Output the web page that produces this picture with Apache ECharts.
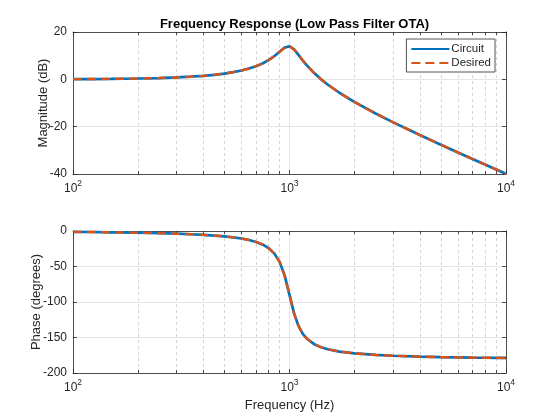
<!DOCTYPE html>
<html><head><meta charset="utf-8">
<script src="https://cdn.jsdelivr.net/npm/echarts@6/dist/echarts.min.js"></script>
<style>html,body{margin:0;padding:0;background:#fff}#c{width:560px;height:420px}</style>
</head><body><div id="c"></div>
<script>
const freq = [100,120,150,200,250,300,350,400,450,500,550,600,650,700,750,800,850,900,950,1000,1050,1100,1150,1200,1300,1400,1500,1700,2000,2500,3000,4000,5000,6000,7000,8000,9000,10000];
// Magnitude (dB)
const magCircuit = [0.09,0.12,0.19,0.35,0.55,0.80,1.11,1.47,1.91,2.42,3.02,3.73,4.56,5.53,6.70,8.09,9.75,11.64,13.41,13.98,12.63,10.34,8.04,6.00,2.65,0.00,-2.18,-5.67,-9.62,-14.44,-18.09,-23.53,-27.61,-30.89,-33.63,-35.99,-38.06,-39.92];
const magDesired = [0.09,0.12,0.19,0.35,0.55,0.80,1.11,1.47,1.91,2.42,3.02,3.73,4.56,5.53,6.70,8.09,9.75,11.64,13.41,13.98,12.63,10.34,8.04,6.00,2.65,0.00,-2.18,-5.67,-9.62,-14.44,-18.09,-23.53,-27.61,-30.89,-33.63,-35.99,-38.06,-39.92];
// Phase (degrees)
const phaseCircuit = [-1.2,-1.4,-1.8,-2.4,-3.1,-3.8,-4.6,-5.4,-6.4,-7.6,-9.0,-10.6,-12.7,-15.4,-18.9,-24.0,-31.5,-43.5,-62.8,-90.0,-116.0,-133.7,-144.5,-151.4,-159.4,-163.7,-166.5,-169.8,-172.4,-174.6,-175.7,-177.0,-177.6,-178.0,-178.3,-178.5,-178.7,-178.8];
const phaseDesired = [-1.2,-1.4,-1.8,-2.4,-3.1,-3.8,-4.6,-5.4,-6.4,-7.6,-9.0,-10.6,-12.7,-15.4,-18.9,-24.0,-31.5,-43.5,-62.8,-90.0,-116.0,-133.7,-144.5,-151.4,-159.4,-163.7,-166.5,-169.8,-172.4,-174.6,-175.7,-177.0,-177.6,-178.0,-178.3,-178.5,-178.7,-178.8];
// Axis ticks
const xMin = 100, xMax = 10000;
const minorFreq = [200,300,400,500,600,700,800,900,2000,3000,4000,5000,6000,7000,8000,9000];
const magRange = [-40, 20], magStep = 20;
const phaseRange = [-200, 0], phaseStep = 50;
const seriesNames = ['Circuit', 'Desired'];

const TXT = '#262626';
const BLUE = '#0072BD', ORANGE = '#D95319';
const FONT = 'Liberation Sans, Arial, Helvetica, sans-serif';

function pairs(xs, ys){ return xs.map((x,i)=>[x, ys[i]]); }

function logLabel(v){
  const e = Math.round(Math.log10(v));
  return '{b|10}{s|' + e + '}';
}
const richLog = {
  b: {fontSize: 12, color: TXT, fontFamily: FONT, lineHeight: 16, verticalAlign: 'bottom'},
  s: {fontSize: 8.5, color: TXT, fontFamily: FONT, lineHeight: 9, verticalAlign: 'top'}
};

function xAxes(gi, name){
  return [
    {gridIndex: gi, type: 'log', logBase: 10, min: xMin, max: xMax,
     name: name || '', nameLocation: 'middle', nameGap: 26, nameMoveOverlap: false,
     nameTextStyle: {fontSize: 13, color: TXT, fontFamily: FONT},
     axisLine: {show: true, onZero: false, lineStyle: {color: TXT, width: 0.8}},
     axisTick: {inside: true, length: 4, lineStyle: {color: TXT, width: 0.8}},
     axisLabel: {formatter: logLabel, rich: richLog, margin: 5},
     splitLine: {show: true, lineStyle: {color: '#dedede', width: 0.8}},
     minorTick: {show: false}},
    {gridIndex: gi, type: 'log', logBase: 10, min: xMin, max: xMax, position: 'top',
     axisLine: {show: true, onZero: false, lineStyle: {color: TXT, width: 0.8}},
     axisTick: {inside: true, length: 4, lineStyle: {color: TXT, width: 0.8}},
     axisLabel: {show: false}, splitLine: {show: false}}
  ];
}
function yAxes(gi, range, step, name, gap){
  return [
    {gridIndex: gi, type: 'value', min: range[0], max: range[1], interval: step,
     name: name, nameLocation: 'middle', nameGap: gap, nameMoveOverlap: false,
     nameTextStyle: {fontSize: 13, color: TXT, fontFamily: FONT},
     axisLine: {show: true, onZero: false, lineStyle: {color: TXT, width: 0.8}},
     axisTick: {show: true, inside: true, length: 4, lineStyle: {color: TXT, width: 0.8}},
     axisLabel: {fontSize: 12, color: TXT, fontFamily: FONT, margin: 6},
     splitLine: {show: true, lineStyle: {color: '#dedede', width: 0.8}}},
    {gridIndex: gi, type: 'value', min: range[0], max: range[1], interval: step, position: 'right',
     axisLine: {show: true, onZero: false, lineStyle: {color: TXT, width: 0.8}},
     axisTick: {show: true, inside: true, length: 4, lineStyle: {color: TXT, width: 0.8}},
     axisLabel: {show: false}, splitLine: {show: false}}
  ];
}

function minorMarks(range, tickLen){
  const grid = minorFreq.map(f => ({xAxis: f, lineStyle: {color: '#c8c8c8', width: 0.8, type: [3, 3]}}));
  const tickStyle = {color: TXT, width: 0.8, type: 'solid'};
  const ticks = [];
  minorFreq.forEach(f => {
    ticks.push([{coord: [f, range[0]], lineStyle: tickStyle}, {coord: [f, range[0] + tickLen]}]);
    ticks.push([{coord: [f, range[1]], lineStyle: tickStyle}, {coord: [f, range[1] - tickLen]}]);
  });
  return grid.concat(ticks);
}

function helper(gi, range, tickLen){
  return {type: 'line', xAxisIndex: gi*2, yAxisIndex: gi*2, data: [], silent: true,
    markLine: {silent: true, z: 1, symbol: ['none','none'], label: {show: false},
      animation: false, data: minorMarks(range, tickLen)}};
}

function curve(name, gi, ys, color, dashed){
  return {name: name, type: 'line', xAxisIndex: gi*2, yAxisIndex: gi*2,
    data: pairs(freq, ys), showSymbol: false, symbol: 'none', smooth: false, z: dashed ? 4 : 3,
    lineStyle: {color: color, width: dashed ? 2.4 : 2.7, type: dashed ? [9, 5] : 'solid'},
    itemStyle: {color: color}};
}

const chart = echarts.init(document.getElementById('c'), null, {renderer: 'canvas'});
chart.setOption({
  animation: false,
  backgroundColor: '#fff',
  title: {text: 'Frequency Response (Low Pass Filter OTA)', left: 289.5, textAlign: 'center', top: 13,
    textStyle: {fontSize: 13, fontWeight: 'bold', color: '#000', fontFamily: FONT}},
  legend: {data: seriesNames, orient: 'vertical', right: 65, top: 39, z: 10,
    padding: [4, 4, 3, 4], itemGap: 2, itemWidth: 38, itemHeight: 12,
    itemStyle: {color: 'rgba(0,0,0,0)', borderColor: 'rgba(0,0,0,0)', borderWidth: 0, opacity: 0},
    backgroundColor: '#fff', borderColor: TXT, borderWidth: 0.8, borderRadius: 0,
    textStyle: {fontSize: 11.5, color: TXT, fontFamily: FONT, padding: [0, 0, 0, -3]}},
  grid: [
    {left: 73, right: 54, top: 32, height: 142, containLabel: false},
    {left: 73, right: 54, top: 231, height: 142, containLabel: false}
  ],
  xAxis: xAxes(0).concat(xAxes(1, 'Frequency (Hz)')),
  yAxis: yAxes(0, magRange, magStep, 'Magnitude (dB)', 23).concat(yAxes(1, phaseRange, phaseStep, 'Phase (degrees)', 30.5)),
  series: [
    helper(0, magRange, 1.3),
    helper(1, phaseRange, 4.3),
    curve(seriesNames[0], 0, magCircuit, BLUE, false),
    curve(seriesNames[1], 0, magDesired, ORANGE, true),
    curve(seriesNames[0], 1, phaseCircuit, BLUE, false),
    curve(seriesNames[1], 1, phaseDesired, ORANGE, true)
  ]
});
</script></body></html>
